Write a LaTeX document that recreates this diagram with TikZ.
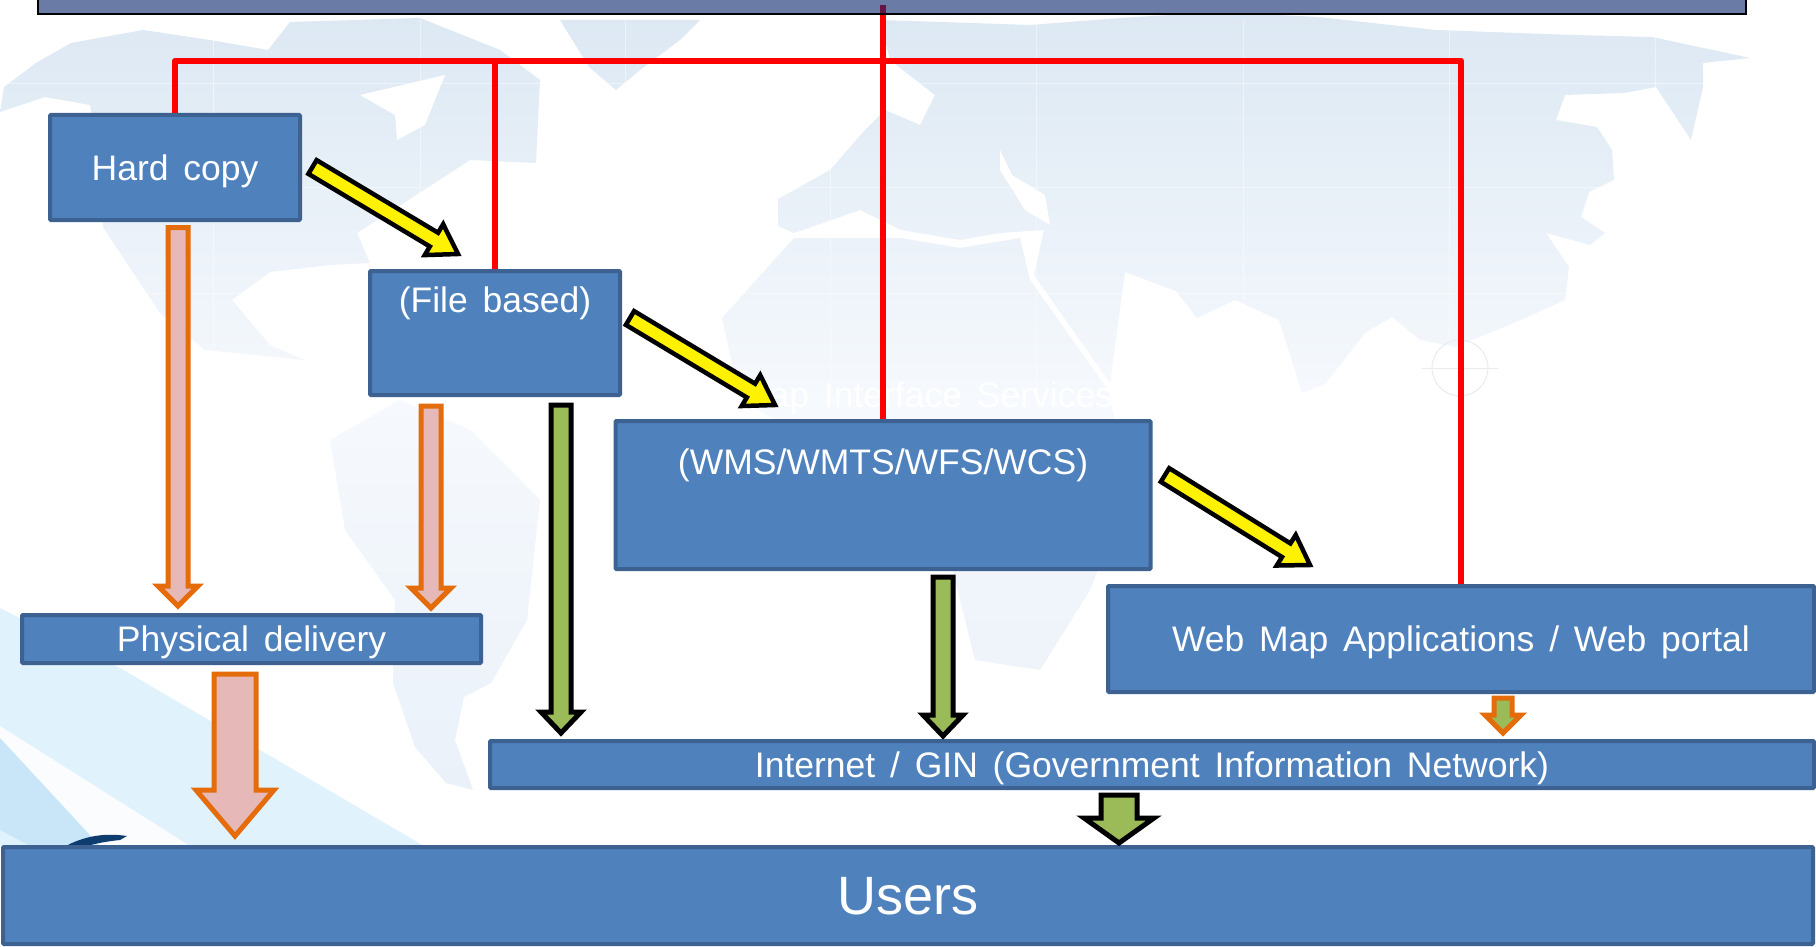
\documentclass[tikz,border=0pt]{standalone}
\usepackage{fontspec}
\setmainfont[WordSpace=1.5]{Liberation Sans}
\usetikzlibrary{calc}
\definecolor{boxfill}{HTML}{4F81BD}
\definecolor{boxedge}{HTML}{3D6191}
\definecolor{barfill}{HTML}{6A7BA6}
\definecolor{orangeedge}{HTML}{E46C0A}
\definecolor{pinkfill}{HTML}{E6B9B8}
\definecolor{greenfill}{HTML}{9BBB59}
\definecolor{landtop}{HTML}{DCE8F3}
\definecolor{landmid}{HTML}{F6F9FD}
\definecolor{landlow}{HTML}{EAF1F9}
\tikzset{
  x=1pt,y=-1pt,
  bluebox/.style={draw=boxedge,fill=boxfill,line width=4pt,rounded corners=1pt,inner sep=0pt,
    text=white,align=center,font=\fontsize{35.5}{67}\selectfont},
  redline/.style={draw=red,line width=6.5pt,line join=round},
  yellowarrow/.style={draw=black,fill=yellow,line width=4.5pt,miter limit=10},
  orangearrow/.style={draw=orangeedge,fill=pinkfill,line width=5pt},
  greenarrow/.style={draw=black,fill=greenfill,line width=5pt},
  orangegreen/.style={draw=orangeedge,fill=greenfill,line width=5pt},
}
% style, tail, tip, half shaft, half head, head length
\newcommand{\blockarrow}[6]{%
  \coordinate (ba) at ($(#3)!#6pt!(#2)$);
  \path[#1] ($(#2)!#4pt!90:(#3)$) -- ($(ba)!#4pt!90:(#3)$) -- ($(ba)!#5pt!90:(#3)$) -- (#3)
    -- ($(ba)!#5pt!-90:(#3)$) -- ($(ba)!#4pt!-90:(#3)$) -- ($(#2)!#4pt!-90:(#3)$) -- cycle;
}
\begin{document}
\begin{tikzpicture}
\useasboundingbox (0,0) rectangle (1816,947);
\fill[white] (0,0) rectangle (1816,947);
% lower-left swooshes
\fill[left color=white,right color=white] (0,0) rectangle (1,1);
\fill[color={rgb,255:red,224;green,242;blue,252}] (0,608) -- (120,668) -- (424,846) -- (0,846) -- cycle;
\fill[color={rgb,255:red,250;green,252;blue,254}] (0,726) -- (190,846) -- (70,846) -- (0,775) -- cycle;
\fill[color={rgb,255:red,200;green,230;blue,247}] (0,738) -- (100,846) -- (30,846) -- (0,830) -- cycle;
\fill[color={rgb,255:red,15;green,60;blue,110}] (62,848) .. controls (80,838) and (100,832) .. (127,836) -- (120,840) .. controls (100,842) and (85,846) .. (75,850) -- cycle;
% land
\path[top color=landtop,bottom color=landlow,middle color=landmid]
  % Eurasia
  (880,20) -- (1030,25) -- (1120,18) -- (1220,12) -- (1318,17) -- (1436,30) -- (1573,35) -- (1652,37) -- (1750,58)
  -- (1703,63) -- (1703,87) -- (1691,140) -- (1656,87) -- (1624,93) -- (1565,95) -- (1556,120) -- (1597,127)
  -- (1612,150) -- (1614,180) -- (1589,192) -- (1581,217) -- (1605,233) -- (1590,245) -- (1546,233) -- (1569,267)
  -- (1565,300) -- (1514,323) -- (1455,347) -- (1420,340) -- (1392,317) -- (1365,333) -- (1326,383) -- (1302,393)
  -- (1279,320) -- (1235,300) -- (1197,318) -- (1176,291) -- (1125,272) -- (1110,383) -- (1034,275)
  -- (1044,230) -- (1000,233) -- (960,240) -- (901,230) -- (860,210) -- (794,233) -- (778,226) -- (778,199)
  -- (830,170) -- (865,130) -- (885,110) -- (920,125) -- (935,95) -- (890,60) -- cycle
  % Africa
  (794,238) -- (722,318) -- (740,400) -- (830,450) -- (920,470) -- (950,560) -- (975,660) -- (1040,670)
  -- (1090,590) -- (1130,490) -- (1108,390) -- (1030,280) -- (1020,238) -- (960,248) -- (900,238) -- cycle
  % North America
  (4,87) -- (36,63) -- (71,43) -- (143,30) -- (210,40) -- (268,50) -- (290,22) -- (420,18) -- (500,50) -- (540,80)
  -- (536,163) -- (470,160) -- (424,190) -- (357,233) -- (370,263) -- (330,265) -- (270,272) -- (232,300)
  -- (270,345) -- (305,360) -- (205,350) -- (160,313) -- (120,253) -- (103,227) -- (100,160) -- (90,105) -- (45,97) -- (0,112) -- cycle
  % Greenland
  (560,20) -- (700,20) -- (680,40) -- (640,70) -- (616,90) -- (589,67) -- cycle
  % South America
  (330,440) -- (400,400) -- (470,430) -- (540,500) -- (527,620) -- (491,683) -- (464,697) -- (455,740) -- (473,790)
  -- (446,783) -- (415,747) -- (393,683) -- (395,600) -- (345,530) -- cycle;
% white inland seas
\fill[white] (360,95) -- (445,75) -- (425,125) -- (397,140) -- (395,115) -- cycle;
\fill[white] (1000,150) -- (1012,175) -- (1045,195) -- (1050,225) -- (1025,210) -- (1000,170) -- cycle;
% faint grid
\foreach \gx in {213,420,625,830,1036,1243,1449,1655}
  \draw[white,opacity=.45,line width=1pt] (\gx,20) -- (\gx,400);
\foreach \gy in {84,188,293}
  \draw[white,opacity=.45,line width=1pt] (0,\gy) -- (1816,\gy);
\draw[black!8,line width=1pt] (1460,368) circle (28);
\draw[black!8,line width=1pt] (1422,368) -- (1498,368);
% red line under top bar
\coordinate (bus) at (883,61);
\coordinate (tapR) at (883,5);
% top bar
\node[draw=black,fill=barfill,line width=2pt,minimum width=1708pt,minimum height=34pt,inner sep=0pt] (topbar) at (892,-3) {};
% boxes
\node[bluebox,minimum width=250pt,minimum height=105pt,text height=25pt,text depth=0pt] (hard) at (175,167.5) {Hard copy};
\node[bluebox,minimum width=250pt,minimum height=124pt,text height=0pt,text depth=42pt] (soft) at (495,333) {Soft copy\\(File based)};
\node[bluebox,minimum width=535pt,minimum height=148pt,text height=0pt,text depth=42pt] (web) at (883,495) {Web Map Interface Services\\(WMS/WMTS/WFS/WCS)};
\node[bluebox,minimum width=706pt,minimum height=106pt,text height=25pt,text depth=0pt] (apps) at (1461,639) {Web Map Applications / Web portal};
\node[bluebox,minimum width=459pt,minimum height=48pt,text height=25pt,text depth=0pt] (phys) at (251.5,639) {Physical delivery};
\node[bluebox,minimum width=1324pt,minimum height=47pt,text height=25pt,text depth=0pt] (net) at (1152,764.5) {Internet / GIN (Government Information Network)};
\node[bluebox,minimum width=1810pt,minimum height=97pt,font=\fontsize{54}{60}\selectfont,text height=38pt,text depth=0pt] (users) at (908,895.5) {Users};
% red connectors
\draw[redline] (hard.north) |- (bus);
\draw[redline] (soft.north) |- (bus);
\draw[redline] (apps.north) |- (bus);
\draw[redline] (web.north) -- (tapR);
\draw[line width=6.5pt,draw={rgb,255:red,105;green,18;blue,70}] (tapR) -- (883,13);
\draw[black,line width=2pt] (860,14) -- (906,14);
% block arrows
\coordinate (y1a) at (312.5,167); \coordinate (y1b) at (458,254);
\coordinate (y2a) at (630,318); \coordinate (y2b) at (775,405);
\coordinate (y3a) at (1165,475); \coordinate (y3b) at (1310,565);
\coordinate (o1a) at (178,227.5); \coordinate (o1b) at (178,606);
\coordinate (o2a) at (431,406); \coordinate (o2b) at (431,608);
\coordinate (o3a) at (235,674); \coordinate (o3b) at (235,836);
\coordinate (g1a) at (561,405); \coordinate (g1b) at (561,733);
\coordinate (g2a) at (943,577); \coordinate (g2b) at (943,736);
\coordinate (g3a) at (1119,795); \coordinate (g3b) at (1119,843);
\coordinate (og1a) at (1503,698); \coordinate (og1b) at (1503,733);
\blockarrow{yellowarrow}{y1a}{y1b}{8}{18}{28}
\blockarrow{yellowarrow}{y2a}{y2b}{8}{18}{28}
\blockarrow{yellowarrow}{y3a}{y3b}{8}{18}{28}
\blockarrow{orangearrow}{o1a}{o1b}{10}{20}{20}
\blockarrow{orangearrow}{o2a}{o2b}{10}{20}{20}
\blockarrow{orangearrow}{o3a}{o3b}{21}{39}{46}
\blockarrow{greenarrow}{g1a}{g1b}{10}{20}{21}
\blockarrow{greenarrow}{g2a}{g2b}{10}{20}{21}
\blockarrow{greenarrow}{g3a}{g3b}{18}{35}{25}
\blockarrow{orangegreen}{og1a}{og1b}{9}{18}{18}
% texts
\end{tikzpicture}
\end{document}
